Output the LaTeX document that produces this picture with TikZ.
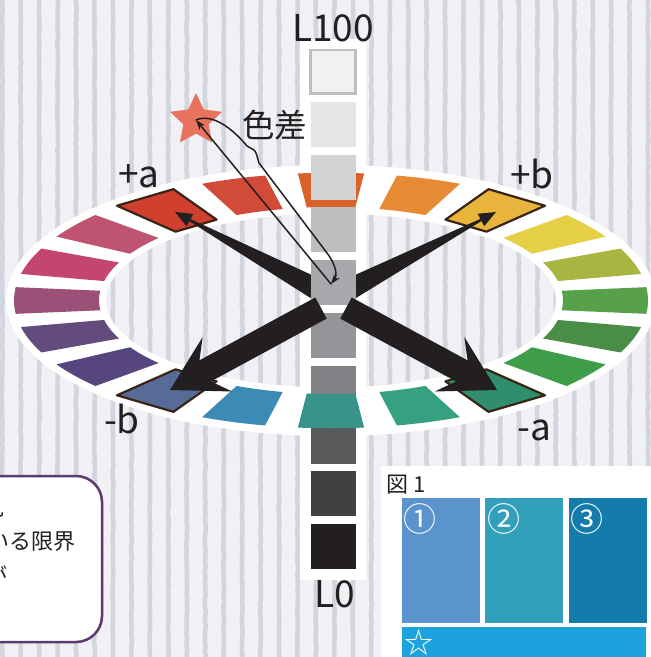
\documentclass[tikz,border=0pt]{standalone}
\usepackage{fontspec}
\setmainfont{Noto Sans CJK JP}
\usetikzlibrary{calc,arrows.meta,shapes.geometric,decorations.pathmorphing}
\definecolor{bg}{HTML}{F0F0F5}
\definecolor{stripe}{HTML}{D1D5DE}
\definecolor{ink}{HTML}{231F20}
\definecolor{diabrown}{HTML}{3A2415}
\definecolor{starcol}{HTML}{E8735F}
\definecolor{boxpurple}{HTML}{5C3A6E}
\definecolor{sq0}{HTML}{F1F1F4}
\definecolor{sq0b}{HTML}{BCBEC0}
\definecolor{sq1}{HTML}{E4E5E7}
\definecolor{sq2}{HTML}{D1D3D4}
\definecolor{sq3}{HTML}{BCBEC0}
\definecolor{sq4}{HTML}{A7A9AC}
\definecolor{sq5}{HTML}{939598}
\definecolor{sq6}{HTML}{808285}
\definecolor{sq7}{HTML}{58595B}
\definecolor{sq8}{HTML}{414042}
\definecolor{sq9}{HTML}{231F20}
\definecolor{bA}{HTML}{5B93CC}
\definecolor{bB}{HTML}{32A0BA}
\definecolor{bC}{HTML}{137CAB}
\definecolor{bD}{HTML}{1CA3DD}
\newcommand\ringseg[2]{\definecolor{segtmp}{HTML}{#2}\fill[segtmp] ({#1-96}:317) arc[start angle={#1-96}, end angle={#1-84}, radius=317] -- ({#1-84}:232) arc[start angle={#1-84}, end angle={#1-96}, radius=232] -- cycle;}
\newcommand\ringdia[2]{\definecolor{segtmp}{HTML}{#2}\filldraw[fill=segtmp, draw=diabrown, line width=2.2pt, line join=round] ({#1-96.3}:318) -- ({#1-83.7}:318) -- ({#1-83.7}:231) -- ({#1-96.3}:231) -- cycle;}
\newcommand\arrowpoly[7]{%
  \path ($(#2)!#4!(#1)$) coordinate (ap-n) ($(#2)!#6!(#1)$) coordinate (ap-h);
  \fill[ink] ($(#1)!#3!90:(#2)$) -- ($(ap-n)!#5!90:(#2)$) -- ($(ap-h)!#7!90:(#2)$) -- (#2)
    -- ($(ap-h)!#7!-90:(#2)$) -- ($(ap-n)!#5!-90:(#2)$) -- ($(#1)!#3!-90:(#2)$) -- cycle;}
\begin{document}
\begin{tikzpicture}[x=1pt,y=-1pt,
  lbl/.style={font=\fontsize{37}{40}\selectfont, text=ink, inner sep=0pt, anchor=base},
  boxtext/.style={font=\fontsize{22}{24}\selectfont, text=ink, inner sep=0pt, anchor=east},
  pen/.style={draw=ink, line width=1.5pt, line cap=round, line join=round},
  stripeline/.style={draw=stripe, line width=4.5pt, decorate, decoration={random steps, segment length=4pt, amplitude=0.45pt}}]
\useasboundingbox (0,0) rectangle (651,657);
\clip (0,0) rectangle (651,657);
\fill[bg] (0,0) rectangle (651,657);
\foreach \k in {0,...,35} \draw[stripeline] ({2.3+18.45*\k},-5) -- ({2.3+18.45*\k},662);
% white ring
\fill[white, even odd rule] (331,300.5) ellipse [x radius=325, y radius=135.5] (331,300.5) ellipse [x radius=225, y radius=87];
% colour segments
\begin{scope}[shift={(331,300.5)}, yscale=0.403]
  \ringseg{18}{E68B33}
  \ringseg{54}{E5CF45}
  \ringseg{72}{A8B540}
  \ringseg{90}{58A04A}
  \ringseg{108}{4A8D46}
  \ringseg{126}{3F9C49}
  \ringseg{162}{35A180}
  \ringseg{198}{3C8AB6}
  \ringseg{234}{574580}
  \ringseg{252}{644B7E}
  \ringseg{270}{9B5078}
  \ringseg{288}{C4466F}
  \ringseg{306}{BE5472}
  \ringseg{342}{D24A38}
  \ringdia{36}{E8B43B}
  \ringdia{144}{2F8E6E}
  \ringdia{216}{566B97}
  \ringdia{324}{D1402F}
\end{scope}
% lightness column
\fill[white] (300,39) rectangle (365.5,580);
\begin{scope}[shift={(331,300.5)}, yscale=0.403]
  \ringseg{0}{D9622B}
\end{scope}
% thin arrows to +a and +b
\coordinate (c1) at (322,292);
\coordinate (t1) at (175,212);
\coordinate (c2) at (344,292.2);
\coordinate (t2) at (496,212);
\arrowpoly{c1}{t1}{11.2pt}{17pt}{1.2pt}{17pt}{7pt}
\arrowpoly{c2}{t2}{11.2pt}{17pt}{1.2pt}{17pt}{7pt}
% grey squares
\filldraw[fill=sq0, draw=sq0b, line width=2.6pt] (310.5,50) rectangle (355.5,93.5);
\foreach \k in {1,...,9} \fill[sq\k] (311,{49+52.8*\k}) rectangle (356,{94+52.8*\k});
\begin{scope}[shift={(331,300.5)}, yscale=0.403]
  \ringseg{180}{389389}
\end{scope}
% thick arrows to -b and -a
\coordinate (c3) at (321,308);
\coordinate (t3) at (170,390);
\coordinate (c4) at (346,308);
\coordinate (t4) at (497,390);
\arrowpoly{c3}{t3}{12pt}{40pt}{12pt}{54pt}{31pt}
\arrowpoly{c4}{t4}{12pt}{40pt}{12pt}{54pt}{31pt}
% star and colour difference arrow
\node[star, star points=5, star point ratio=2.05, minimum size=54.6pt, inner sep=0pt, fill=starcol] (star) at (196,120.3) {};
\coordinate (S) at (196,120);
\coordinate (E) at (331,284);
\draw[pen, {Stealth[length=10pt,width=7pt]}-] (S) -- (E);
\draw[pen, -{Stealth[length=10pt,width=7pt]}] (S) .. controls (212,113) and (232,128) .. (247,146) -- (254,150) .. controls (257,153) and (257,157) .. (259,163) -- (327,253) .. controls (337,266) and (337,276) .. (E);
\node[font=\fontsize{32.5}{34}\selectfont, text=ink, inner sep=0pt] (diff) at (274.5,125) {色差};
% labels
\node[lbl] (L100) at (333,41) {L100};
\node[lbl] (L0) at (334.5,607) {L0};
\node[lbl] (pa) at (139,187) {+a};
\node[lbl] (pb) at (532,188) {+b};
\node[lbl] (mb) at (122,433) {-b};
\node[lbl] (ma) at (534,440) {-a};
% text box
\draw[boxpurple, line width=2.5pt, fill=white, rounded corners=26pt] (-40,476) rectangle (102,642);
\node[boxtext] (t1l) at (4.5,508) {見};
\node[boxtext] (t2l) at (76,542) {ている限界};
\node[boxtext] (t3l) at (8,576) {が};
% figure panel
\fill[white] (381,466) rectangle (655,660);
\node[font=\fontsize{22}{24}\selectfont, text=ink, inner sep=0pt, anchor=base west] (fig) at (386,492) {図 1};
\fill[bA] (402,498) rectangle (480,623);
\fill[bB] (485,498) rectangle (563,623);
\fill[bC] (569,498) rectangle (647,623);
\fill[bD] (402,627) rectangle (646,660);
\node[font=\fontsize{33}{34}\selectfont, text=white, inner sep=0pt] (n1) at (420,518.5) {①};
\node[font=\fontsize{33}{34}\selectfont, text=white, inner sep=0pt] (n2) at (503.5,518.5) {②};
\node[font=\fontsize{33}{34}\selectfont, text=white, inner sep=0pt] (n3) at (587,518.5) {③};
\node[font=\fontsize{29}{30}\selectfont, text=white, inner sep=0pt] (n4) at (418.5,642.5) {☆};
\end{tikzpicture}
\end{document}
